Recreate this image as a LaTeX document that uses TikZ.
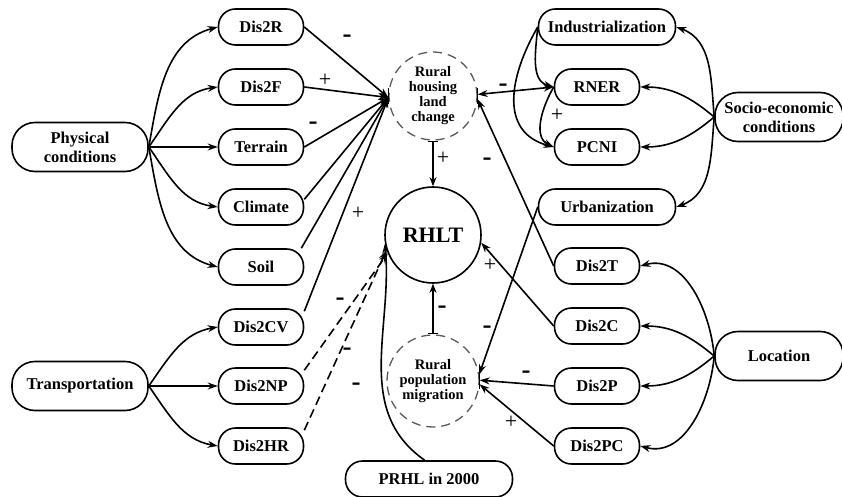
\documentclass[tikz,border=0pt]{standalone}
\usepackage{fontspec}
\setmainfont{Liberation Serif}
\usetikzlibrary{arrows.meta}
\tikzset{
 box/.style={draw, line width=1.6pt, rounded corners=17pt, minimum height=36pt, minimum width=85pt, font=\fontsize{16.5}{19}\selectfont\bfseries, align=center, inner sep=2pt},
 wbox/.style={box, minimum width=137pt},
 bigbox/.style={box, minimum width=136pt, minimum height=49pt, rounded corners=23pt},
 sidebox/.style={box, minimum width=128pt, minimum height=49pt, rounded corners=23pt},
 dcirc/.style={circle, draw=black!65, dash pattern=on 9pt off 6pt, line width=1.3pt, minimum size=90pt, inner sep=0pt, align=center, font=\fontsize{14.5}{15}\selectfont\bfseries},
 con/.style={line width=1.6pt, -{Stealth[length=10pt,width=7pt]}},
 dcon/.style={con, dash pattern=on 9pt off 5pt},
 barcon/.style={line width=1.6pt, {Bar[width=10pt]}-{Stealth[length=9pt,width=7pt]}},
 tick/.style={line width=1.6pt},
 plus/.style={font=\fontsize{22}{22}\selectfont, inner sep=0pt},
 minus/.style={font=\fontsize{27}{27}\selectfont\bfseries, inner sep=0pt},
}
\begin{document}
\begin{tikzpicture}[x=1pt,y=1pt]
\useasboundingbox (0,0) rectangle (842,496);
% left nodes
\node[bigbox] (phys) at (80,349) {Physical\\conditions};
\node[bigbox] (trans) at (80,110) {Transportation};
\node[box] (dR) at (261,469) {Dis2R};
\node[box] (dF) at (261,409) {Dis2F};
\node[box] (ter) at (261,349) {Terrain};
\node[box] (cli) at (261,289) {Climate};
\node[box] (soil) at (261,229) {Soil};
\node[box] (dCV) at (261,169) {Dis2CV};
\node[box] (dNP) at (261,110) {Dis2NP};
\node[box] (dHR) at (261,50) {Dis2HR};
% right nodes
\node[wbox] (ind) at (607,469) {Industrialization};
\node[box] (rner) at (597,409) {RNER};
\node[box] (pcni) at (597,349) {PCNI};
\node[wbox] (urb) at (607,289) {Urbanization};
\node[sidebox] (socio) at (779,379) {Socio-economic\\conditions};
\node[sidebox] (loc) at (779,140) {Location};
\node[box] (dT) at (597,230) {Dis2T};
\node[box] (dC) at (597,170) {Dis2C};
\node[box] (dP) at (597,110) {Dis2P};
\node[box] (dPC) at (597,50) {Dis2PC};
\node[box, minimum width=167pt] (prhl) at (429,17) {PRHL in 2000};
% circles
\node[dcirc, minimum size=88pt] (rhlc) at (433,400) {Rural\\housing\\land\\change};
\node[circle, draw, line width=1.6pt, minimum size=96pt, inner sep=0pt, font=\fontsize{22}{22}\selectfont\bfseries] (rhlt) at (433,261) {RHLT};
\node[dcirc, minimum size=92pt] (rpm) at (433,115) {Rural\\population\\migration};
% physical conditions
\draw[con] (phys.east) to[out=80,in=195] (dR.west);
\draw[con] (phys.east) to[out=55,in=188] (dF.west);
\draw[con] (phys.east) -- (ter.west);
\draw[con] (phys.east) to[out=-55,in=172] (cli.west);
\draw[con] (phys.east) to[out=-80,in=165] (soil.west);
% transportation
\draw[con] (trans.east) to[out=55,in=190] (dCV.west);
\draw[con] (trans.east) -- (dNP.west);
\draw[con] (trans.east) to[out=-55,in=170] (dHR.west);
% into rural housing land change
\coordinate (hin) at (rhlc.182);
\draw[con] (dR.east) -- (hin);
\draw[con] (dF.east) -- (hin);
\draw[con] (ter.east) -- (hin);
\draw[con] (cli.10) -- (hin);
\draw[con] (soil.25) -- (hin);
\draw[con] (dCV.20) -- (hin);
\draw[tick] ([yshift=-8pt]rhlc.180) -- ([yshift=8pt]rhlc.180);
% dashed to RHLT
\draw[dcon] (dNP.20) -- (rhlt.202);
\draw[dcon] (dHR.20) -- (rhlt.198);
\draw[con] (prhl.103) to[out=145,in=-85] (rhlt.190);
% vertical links
\draw[barcon] (rhlc.south) -- (rhlt.north);
\draw[barcon] (rpm.north) -- (rhlt.south);
% socio-economic
\draw[con] (socio.west) to[out=95,in=-20] (ind.east);
\draw[con] (socio.west) to[out=140,in=0] (rner.east);
\draw[con] (socio.west) to[out=-140,in=0] (pcni.east);
\draw[con] (socio.west) to[out=-95,in=20] (urb.east);
% industrialization
\draw[con] (ind.west) to[out=-95,in=165] (rner.west);
\draw[con] (ind.west) to[out=-120,in=165,looseness=1.2] (pcni.west);
\draw[con] (rner.west) to[out=-120,in=155] (pcni.west);
\draw[line width=1.6pt, {Stealth[length=10pt,width=7pt]}-{Stealth[length=10pt,width=7pt]}] (rhlc.2) -- (rner.west);
\draw[tick] ([yshift=-8pt]rhlc.0) -- ([yshift=8pt]rhlc.0);
\draw[con] (dT.west) -- (rhlc.-4);
% location
\draw[con] (loc.west) to[out=95,in=15] (dT.east);
\draw[con] (loc.west) to[out=140,in=0] (dC.east);
\draw[con] (loc.west) to[out=-140,in=0] (dP.east);
\draw[con] (loc.west) to[out=-95,in=-15] (dPC.east);
\draw[con] (urb.west) -- (rpm.8);
\draw[con] (dC.west) -- (rhlt.-9);
\draw[con] (dP.west) -- (rpm.1);
\draw[con] (dPC.west) -- (rpm.-4);
\draw[tick] ([yshift=-8pt]rpm.0) -- ([yshift=8pt]rpm.0);
% signs
\node[minus] (s1) at (347,457) {-};
\node[plus] (s2) at (325,416) {+};
\node[minus] (s3) at (313,370) {-};
\node[plus] (s4) at (358,283) {+};
\node[minus] (s5) at (340,194) {-};
\node[minus] (s6) at (347,144) {-};
\node[minus] (s7) at (356,109) {-};
\node[plus] (s8) at (443,338) {+};
\node[minus] (s9) at (442,186) {-};
\node[minus] (s10) at (503,408) {-};
\node[plus] (s11) at (557,381) {+};
\node[minus] (s12) at (487,334) {-};
\node[plus] (s13) at (490,231) {+};
\node[minus] (s14) at (487,166) {-};
\node[minus] (s15) at (526,121) {-};
\node[plus] (s16) at (511,74) {+};
\end{tikzpicture}
\end{document}
